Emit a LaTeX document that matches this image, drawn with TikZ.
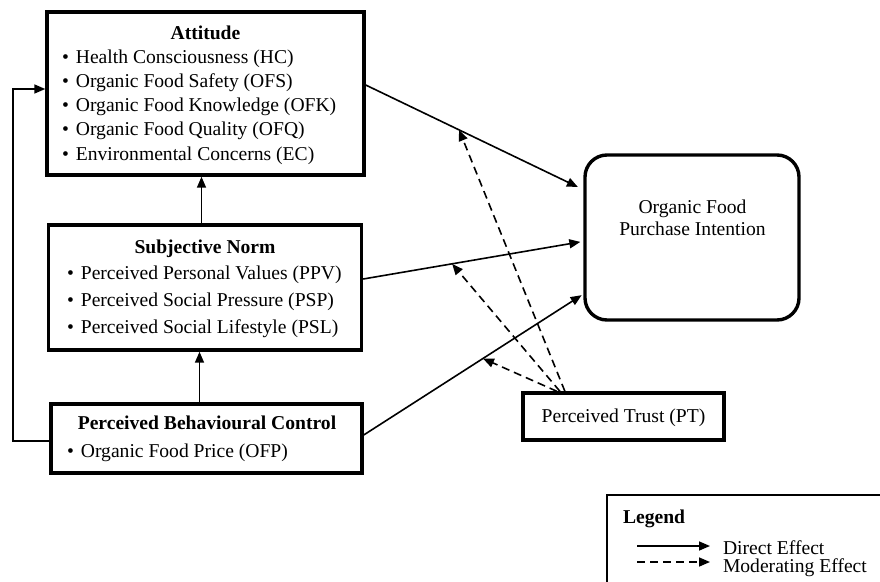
\documentclass[tikz,border=0pt]{standalone}
\usepackage{fontspec}
\setmainfont{Liberation Serif}
\usetikzlibrary{arrows.meta}
\newcommand\bul{\textbullet\hspace{7pt}}
\begin{document}
\begin{tikzpicture}[x=1pt,y=-1pt,
  every node/.style={font=\fontsize{19.6}{24}\selectfont, inner sep=0pt, outer sep=0pt},
  box/.style={draw, line width=3.4pt, rectangle, outer sep=1.7pt},
  txt/.style={anchor=base},
  bold/.style={anchor=base, font=\fontsize{19.6}{24}\selectfont\bfseries},
  item/.style={anchor=base west},
  arr/.style={line width=1.6pt, -{Triangle[length=11pt,width=9pt]}},
  mod/.style={arr, dash pattern=on 8pt off 5pt},
]
\useasboundingbox (0,0) rectangle (880,581);

% boxes
\node[box, minimum width=317pt, minimum height=163pt] (att) at (205.5,93.5) {};
\node[box, minimum width=313pt, minimum height=125pt] (sn) at (205,287.5) {};
\node[box, minimum width=311pt, minimum height=69pt] (pbc) at (206.5,438.5) {};
\node[box, rounded corners=22pt, minimum width=214pt, minimum height=165pt] (ofpi) at (692,237.5) {};
\node[box, minimum width=201pt, minimum height=47pt] (pt) at (623.5,416.5) {};

% texts
\node[bold] (attT) at (205.5,39.3) {Attitude};
\node[item] (att1) at (62,63) {\bul Health Consciousness (HC)};
\node[item] (att2) at (62,87.3) {\bul Organic Food Safety (OFS)};
\node[item] (att3) at (62,111.6) {\bul Organic Food Knowledge (OFK)};
\node[item] (att4) at (62,135.9) {\bul Organic Food Quality (OFQ)};
\node[item] (att5) at (62,160.2) {\bul Environmental Concerns (EC)};

\node[bold] (snT) at (205,253.3) {Subjective Norm};
\node[item] (sn1) at (67,279) {\bul Perceived Personal Values (PPV)};
\node[item] (sn2) at (67,306) {\bul Perceived Social Pressure (PSP)};
\node[item] (sn3) at (67,333) {\bul Perceived Social Lifestyle (PSL)};

\node[bold] (pbcT) at (207,429) {Perceived Behavioural Control};
\node[item] (pbc1) at (67,457) {\bul Organic Food Price (OFP)};

\node[txt] (ofpi1) at (692.5,213) {Organic Food};
\node[txt] (ofpi2) at (692.5,235) {Purchase Intention};

\node[txt] (ptT) at (623.5,422) {Perceived Trust (PT)};

% direct effects
\draw[arr, shorten >=6pt] (att.east |- 0,85) -- coordinate[pos=0.429] (m1) (ofpi.west |- 0,189.6);
\draw[arr, shorten >=3pt] (sn.east |- 0,279) -- coordinate[pos=0.404] (m2) (ofpi.west |- 0,241.4);
\draw[arr, shorten >=2pt] (pbc.east |- 0,435) -- coordinate[pos=0.543] (m3) (ofpi.west |- 0,294.1);

\draw[arr] (sn.north -| 201.5,0) -- (att.south -| 201.5,0);
\draw[arr] (pbc.north -| 199.5,0) -- (sn.south -| 199.5,0);
\draw[arr] (pbc.west |- 0,441) -- ++(-36.4,0) |- (att.west |- 0,89);

% moderating effects
\draw[mod] ([xshift=43.6pt]pt.north west) -- (m1);
\draw[mod] ([xshift=38.6pt]pt.north west) -- (m2);
\draw[mod] ([xshift=35.6pt]pt.north west) -- (m3);

% legend
\draw[line width=1.6pt] (607,584) -- (607,495) -- (884,495);
\node[item, font=\fontsize{19.6}{24}\selectfont\bfseries] (legT) at (623,523.3) {Legend};
\node[item] (legD) at (723,554) {Direct Effect};
\node[item] (legM) at (723,572) {Moderating Effect};
\coordinate (l1a) at (637,546);
\coordinate (l1b) at (710,546);
\coordinate (l2a) at (637,562);
\coordinate (l2b) at (710,562);
\draw[arr] (l1a) -- (l1b);
\draw[mod] (l2a) -- (l2b);
\end{tikzpicture}
\end{document}
